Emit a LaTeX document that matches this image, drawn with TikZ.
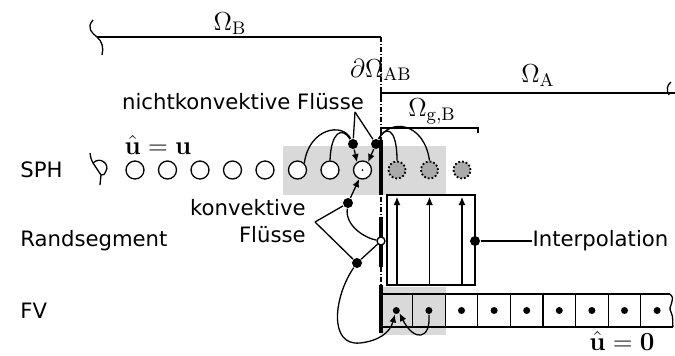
\documentclass[tikz,border=0pt]{standalone}
\usepackage{fix-cm}
\usepackage[no-math]{fontspec}
\newfontfamily\dejavu{DejaVu Sans}
\usetikzlibrary{arrows.meta,positioning,calc}
\definecolor{shadegray}{RGB}{217,217,217}
\definecolor{ghostgray}{RGB}{170,170,170}
\tikzset{
  lbl/.style={font=\dejavu\fontsize{10.6}{13.5}\selectfont},
  mth/.style={font=\fontsize{13}{15}\selectfont,inner sep=0pt},
  sph/.style={circle,draw,fill=white,minimum size=9pt,inner sep=0pt},
  ghost/.style={circle,draw,densely dotted,line width=0.9pt,fill=ghostgray,minimum size=8.5pt,inner sep=0pt},
  dot/.style={circle,fill,inner sep=0pt,minimum size=5pt},
  odot/.style={circle,draw,fill=white,inner sep=0pt,minimum size=4pt},
  cdot/.style={circle,fill,inner sep=0pt,minimum size=3.5pt},
  arr/.style={-{Latex[length=4pt,width=3.5pt]}},
  bar/.style={line width=1.8pt},
  bnd/.style={dash pattern=on 2.5pt off 1pt on 0.5pt off 1pt},
}
\begin{document}
\begin{tikzpicture}[x=0.5pt,y=-0.5pt,line width=0.65pt]
    \useasboundingbox (0,0) rectangle (675,355);
    % shaded regions
    \fill[shadegray] (283,146) rectangle (446,195);
    \fill[shadegray] (380,287) rectangle (446,335);
    % domains
    \draw (97,37) -- (381,37);
    \draw (93,20) .. controls (86,28) and (92,33) .. (97,37) .. controls (102,41) and (104,48) .. (102,55);
    \draw[bnd] (381,37) -- (381,285);
    \draw (381,100) -- (381,93) -- (675,93);
    \draw (671,82) .. controls (667,85) and (666,90) .. (669,95);
    \draw (381,135) -- (381,128) -- (478,128) -- (478,133);
    \node[mth] (omB) at (230,24) {$\Omega_{\mathrm{B}}$};
    \node[mth] (domAB) at (381,70) {$\partial\Omega_{\mathrm{AB}}$};
    \node[mth] (omA) at (538,76) {$\Omega_{\mathrm{A}}$};
    \node[mth] (omgB) at (432,111) {$\Omega_{\mathrm{g,B}}$};
    % row labels
    \node[lbl,anchor=west] (lsph) at (13,170) {SPH};
    \node[lbl,anchor=west] (lrand) at (13,241) {Randsegment};
    \node[lbl,anchor=west] (lfv) at (13,311) {FV};
    % SPH particles
    \draw (90,153) .. controls (91,159) .. (93,163) -- (101,175) -- (100,185);
    \draw (93,163) .. controls (100,156) and (110,164) .. (106,171) .. controls (104,175) .. (101,175);
    \foreach \i in {1,...,8} {
        \node[sph] (p\i) at ({135+32.5*(\i-1)},170) {};
    }
    \fill (p8) circle (1);
    \foreach \i/\x in {1/397,2/429.5,3/462} {
        \node[ghost] (g\i) at (\x,170) {};
    }
    \draw[bar] (381,140) -- (381,195);
    \node[mth] (uhat) at (158,145) {$\hat{\mathbf{u}}=\mathbf{u}$};
    % non-convective fluxes
    \node[lbl] (nklbl) at (243,102) {nichtkonvektive Flüsse};
    \coordinate (nk) at (355,112);
    \node[dot] (nL) at (353,144) {};
    \node[dot] (nR) at (376,144) {};
    \draw (nk) -- (nL);
    \draw (nk) -- (nR);
    \draw (p6.north east) .. controls (309,128) and (343,122) .. (nL);
    \draw (p7.north) .. controls (331,132) and (342,126) .. (nL);
    \draw (nR) .. controls (385,126) and (397,126) .. (g1.north);
    \draw (nR) .. controls (390,118) and (424,122) .. (g2.north);
    \draw[arr] (nL) -- (p8.125);
    \draw[arr] (nR) -- (p8.55);
    % boundary segment and convective fluxes
    \draw[bar] (381,217) -- (381,267);
    \node[odot] (rs) at (381,241) {};
    \node[dot] (kU) at (348,203) {};
    \node[dot] (kL) at (357,263) {};
    \node[lbl,align=right,anchor=east] (kvlbl) at (313,221.5) {konvektive\\Flüsse};
    \coordinate (kv) at (315,222);
    \draw (kv) -- (kU);
    \draw (kv) -- (kL);
    \draw[arr] (kU) -- (p8.250);
    \draw (kU) .. controls (345,226) and (365,238) .. (rs);
    \draw (kL) -- (rs);
    % interpolation
    \draw (387,195) rectangle (475,285);
    \foreach \x in {397,429.5,462} {
        \draw[arr,line width=0.55pt] (\x,284) -- (\x,197);
    }
    \node[dot] (iD) at (475,241) {};
    \node[lbl,anchor=west,inner sep=0pt] (ilbl) at (532,241) {Interpolation};
    \draw (iD) -- (ilbl);
    % finite volumes
    \draw (380,294) -- (670,294);
    \draw (380,327) -- (673,327);
    \draw (670,294) .. controls (677,300) and (667,306) .. (671,312) .. controls (674,318) and (672,323) .. (673,327);
    \foreach \k in {1,...,8} {
        \draw ({380+32.6*\k},294) -- ({380+32.6*\k},327);
    }
    \foreach \k in {1,...,9} {
        \node[cdot] (c\k) at ({396.3+32.6*(\k-1)},310.5) {};
    }
    \draw[bar] (381,285) -- (381,333);
    \draw[arr] (kL) .. controls (334,296) and (328,346) .. (360,343) .. controls (378,341) and (390,333) .. (c1.250);
    \draw[arr] (c2.south) .. controls (431,340) and (414,342) .. (c1.-40);
    \node[mth] (uzero) at (622,341) {$\hat{\mathbf{u}}=\mathbf{0}$};
\end{tikzpicture}
\end{document}
